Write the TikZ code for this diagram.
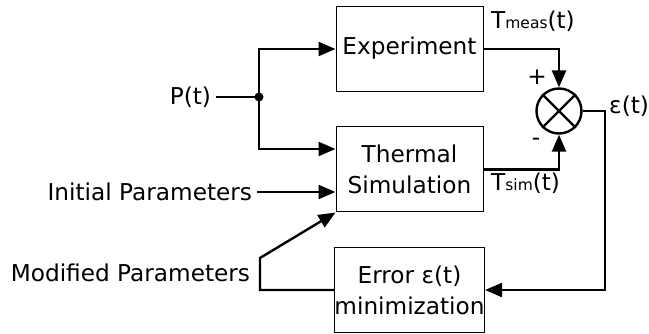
\documentclass[tikz,border=0pt]{standalone}
\usepackage{fontspec}
\setmainfont{DejaVu Sans}
\usetikzlibrary{arrows.meta}
\newcommand{\smallsub}[1]{{\fontsize{15.5}{15.5}\selectfont #1}}
\begin{document}
\begin{tikzpicture}[x=1pt,y=-1pt,
  font=\fontsize{23.2}{31}\selectfont,
  blk/.style={draw=black,line width=1pt,rectangle,minimum width=147pt,minimum height=85pt,inner sep=0pt,align=center},
  lbl/.style={inner sep=0pt,outer xsep=5pt},
  conn/.style={line width=2.4pt},
  arr/.style={conn,-{Triangle[length=17pt,width=14pt]}},
  sumnode/.style={draw=black,line width=2.4pt,circle,minimum size=45pt,inner sep=0pt}
]
\useasboundingbox (0,0) rectangle (649,334);
% blocks
\node[blk] (exp) at (409.5,49) {\raisebox{7pt}{Experiment}};
\node[blk] (sim) at (409.5,169.5) {Thermal\\Simulation};
\node[blk] (err) at (409.5,290) {Error ε(t)\\minimization};
\node[sumnode] (sum) at (559,111) {};
\draw[line width=2.2pt] (sum.north west) -- (sum.south east);
\draw[line width=2.2pt] (sum.north east) -- (sum.south west);
% labels
\node[lbl,anchor=east] (P) at (216,97) {P(t)};
\node[lbl,anchor=east] (init) at (257,192) {Initial Parameters};
\node[lbl,anchor=east] (mod) at (255,273) {Modified Parameters};
\node[inner sep=0pt,anchor=west] (tmeas) at (491,21) {T\smallsub{meas}(t)};
\node[inner sep=0pt,anchor=west] (tsim) at (491,183) {T\smallsub{sim}(t)};
\node[inner sep=0pt,anchor=west] (eps) at (609,106) {ε(t)};
\node[inner sep=0pt] (plus) at (537,77) {+};
\node[inner sep=0pt] (minus) at (536,142) {-};
% coordinates
\coordinate (dot) at (259,97);
\coordinate (c3) at (605,111);
\coordinate (m1) at (260,290);
\coordinate (m2) at (260,258);
% connectors
\draw[conn] (P.east) -- (dot);
\fill (dot) circle (4.5pt);
\draw[arr] (dot) |- (exp.west);
\draw[arr] (dot) |- ([yshift=20.5pt]sim.west);
\draw[arr] (init.east) -- ([yshift=-22.5pt]sim.west);
\draw[arr] (exp.east) -| (sum.north);
\draw[arr] (sim.east) -| (sum.south);
\draw[arr,line join=miter] (sum.east) -- (c3) |- (err.east);
\draw[arr,line join=miter] (err.west) -- (m1) -- (m2) -- (sim.south west);
\end{tikzpicture}
\end{document}
